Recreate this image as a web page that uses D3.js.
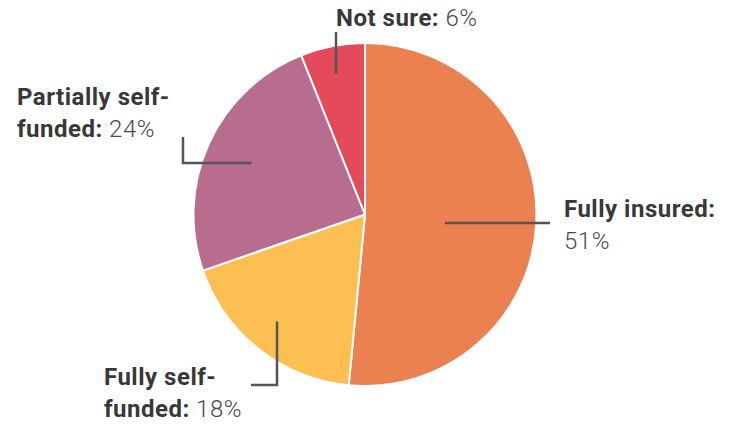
<!DOCTYPE html>
<html>
<head>
<meta charset="utf-8">
<script src="https://d3js.org/d3.v7.min.js"></script>
<style>
  html, body { margin: 0; padding: 0; background: #fff; }
  svg { display: block; }
  .lbl { font-family: Roboto, "DejaVu Sans", sans-serif; font-size: 24px; fill: #383838; letter-spacing: 0.5px; }
  .lbl .name { font-weight: 700; }
  .lbl .val { font-weight: 300; fill: #4a4a4a; }
</style>
</head>
<body>
<div id="chart"></div>
<script>
'use strict';

// ─── DATA ────────────────────────────────────────────────────
var categories = ['Fully insured', 'Fully self-funded', 'Partially self-funded', 'Not sure'];
var values = [51, 18, 24, 6];
var colors = ['#eb8151', '#fdbf52', '#b86d8e', '#e54a5b'];

// label text, split on lines: [bold part, value part] per line
var labelLines = [
    [['Fully insured:', ''], ['', '51%']],
    [['Fully self-', ''], ['funded:', ' 18%']],
    [['Partially self-', ''], ['funded:', ' 24%']],
    [['Not sure:', ' 6%']]
];

// leader line: radius of inner end, then bend points; label top-left baseline
var leaders = [
    { r: 80,    pts: [[550, 223]],             tx: 564, ty: 217 },
    { r: 136,   pts: [[277, 385], [251, 385]], tx: 104, ty: 385 },
    { r: 125,   pts: [[183, 163], [183, 137]], tx: 17,  ty: 105 },
    { r: 143.5, pts: [[336, 32]],              tx: 336, ty: 26 }
];

// ─── LAYOUT ──────────────────────────────────────────────────
var width = 738, height = 426;
var cx = 365, cy = 214.5, radius = 171.5;
var lineHeight = 31.5;

var svg = d3.select('#chart').append('svg')
    .attr('width', width)
    .attr('height', height);

var pie = d3.pie().sort(null).value(function(d) { return d; });
var arcs = pie(values);
var arc = d3.arc().innerRadius(0).outerRadius(radius);

var g = svg.append('g').attr('transform', 'translate(' + cx + ',' + cy + ')');

g.selectAll('path.slice')
    .data(arcs)
    .enter()
    .append('path')
    .attr('class', 'slice')
    .attr('d', arc)
    .attr('fill', function(d, i) { return colors[i]; })
    .attr('stroke', '#fff')
    .attr('stroke-width', 2)
    .attr('stroke-linejoin', 'round');

// leader lines
var line = d3.line();
svg.selectAll('path.leader')
    .data(arcs)
    .enter()
    .append('path')
    .attr('class', 'leader')
    .attr('d', function(d, i) {
        var a = (d.startAngle + d.endAngle) / 2;
        var r = leaders[i].r;
        var start = [cx + r * Math.sin(a), cy - r * Math.cos(a)];
        // snap the first segment to horizontal / vertical
        if (i === 0 || i === 2) start[1] = leaders[i].pts[0][1];
        else start[0] = leaders[i].pts[0][0];
        return line([start].concat(leaders[i].pts));
    })
    .attr('fill', 'none')
    .attr('stroke', '#555')
    .attr('stroke-width', 2.5);

// labels
categories.forEach(function(c, i) {
    var t = svg.append('text')
        .attr('class', 'lbl')
        .attr('x', leaders[i].tx)
        .attr('y', leaders[i].ty);
    labelLines[i].forEach(function(ln, j) {
        var first = true;
        if (ln[0]) {
            t.append('tspan')
                .attr('class', 'name')
                .attr('x', leaders[i].tx)
                .attr('dy', j === 0 ? 0 : lineHeight)
                .text(ln[0]);
            first = false;
        }
        if (ln[1]) {
            var s = t.append('tspan').attr('class', 'val').text(ln[1]);
            if (first) s.attr('x', leaders[i].tx).attr('dy', j === 0 ? 0 : lineHeight);
        }
    });
});
</script>
</body>
</html>
